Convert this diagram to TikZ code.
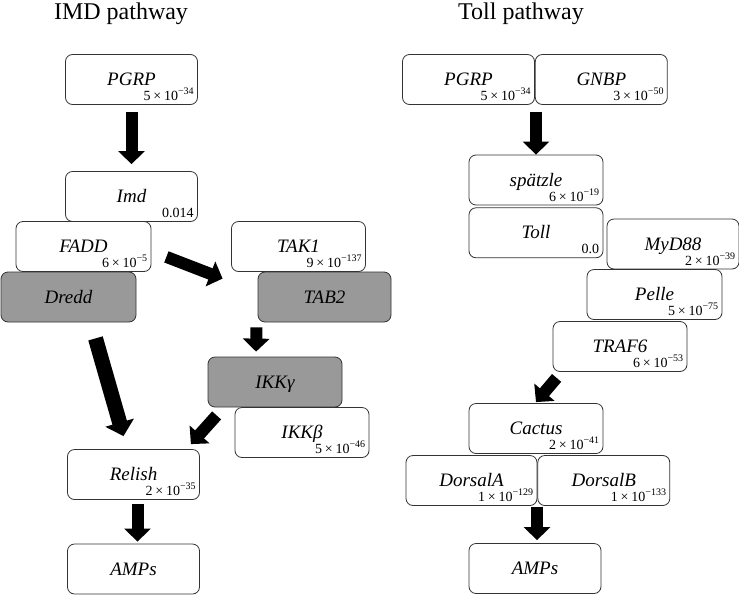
\documentclass[tikz,border=0pt]{standalone}
\usepackage{fontspec}
\setmainfont{Liberation Serif}
\usetikzlibrary{arrows.meta,positioning,calc}

\newcommand{\sci}[2]{#1\hspace{0.2em}×\hspace{0.2em}10\raisebox{0.42em}{\fontsize{10}{11}\selectfont −#2}}

\tikzset{
  gene/.style={draw=black!80,line width=0.8pt,rounded corners=7pt,fill=white,
    minimum width=132pt,minimum height=50pt,inner sep=0pt,
    text height=12pt,text depth=0pt,font=\fontsize{19}{22}\selectfont\itshape},
  dark/.style={gene,fill=black!40},
  pval/.style={anchor=south east,inner sep=0pt,xshift=-4pt,yshift=4pt,
    font=\fontsize{14}{16}\selectfont},
  fat/.style={line width=12pt,-{Triangle[width=26pt,length=13pt]}},
  title/.style={font=\fontsize{24}{28}\selectfont}
}

\begin{document}
\begin{tikzpicture}[x=1pt,y=-1pt]
      \useasboundingbox (0,0) rectangle (739,595);

      \node[title] (imdt) at (121,14) {IMD pathway};
      \node[title] (tollt) at (521,14) {Toll pathway};

      \node[gene,label={[pval]south east:\sci{5}{34}}] (ipgrp) at (131.5,79.5) {PGRP};
      \node[gene,label={[pval]south east:0.014}] (iimd) at (131.5,196.5) {Imd};
      \node[gene,minimum width=135pt,label={[pval]south east:\sci{6}{5}}] (ifadd) at (83.5,246.5) {FADD};
      \node[dark,minimum width=135pt] (idredd) at (68.5,297) {Dredd};
      \node[gene,minimum width=134pt,label={[pval]south east:\sci{9}{137}}] (itak) at (298.5,246.5) {TAK1};
      \node[dark,minimum width=133pt] (itab) at (324.5,297) {TAB2};
      \node[dark,minimum width=134pt] (iikkg) at (275,382) {IKKγ};
      \node[gene,minimum width=134pt,label={[pval]south east:\sci{5}{46}}] (iikkb) at (302,432.5) {IKKβ};
      \node[gene,label={[pval]south east:\sci{2}{35}}] (irel) at (133.5,474.5) {Relish};
      \node[gene] (iamp) at (133.5,569) {AMPs};

      \node[gene,label={[pval]south east:\sci{5}{34}}] (tpgrp) at (468.5,79.5) {PGRP};
      \node[gene,right=0pt of tpgrp,label={[pval]south east:\sci{3}{50}}] (tgnbp) {GNBP};
      \node[gene,minimum width=134pt,label={[pval]south east:\sci{6}{19}}] (tspz) at (536,180) {spätzle};
      \node[gene,minimum width=134pt,below=2pt of tspz,label={[pval]south east:0.0}] (ttoll) {Toll};
      \node[gene,label={[pval]south east:\sci{2}{39}}] (tmyd) at (673,244) {MyD88};
      \node[gene,minimum width=135pt,label={[pval]south east:\sci{5}{75}}] (tpelle) at (654.5,294.5) {Pelle};
      \node[gene,minimum width=134pt,label={[pval]south east:\sci{6}{53}}] (ttraf) at (620,346.5) {TRAF6};
      \node[gene,minimum width=134pt,label={[pval]south east:\sci{2}{41}}] (tcact) at (536,428.5) {Cactus};
      \node[gene,minimum width=131pt,label={[pval]south east:\sci{1}{129}}] (tdora) at (471.5,480.5) {DorsalA};
      \node[gene,right=0pt of tdora,label={[pval]south east:\sci{1}{133}}] (tdorb) {DorsalB};
      \node[gene] (tamp) at (535,568.5) {AMPs};

      \draw[fat,shorten <=7pt,shorten >=7pt] (ipgrp.south) -- (iimd.north);
      \draw[fat] ($(ifadd.south east)+(15,-15)$) -- ($(itab.north west)+(-35,7)$);
      \draw[fat,line width=15pt,-{Triangle[width=29pt,length=14pt]}] ($(idredd.south)+(27,16)$) -- ($(irel.north)+(-10,-13)$);
      \draw[fat,shorten <=5pt,shorten >=5pt] ([xshift=-68pt]itab.south) -- ([xshift=-19pt]iikkg.north);
      \draw[fat] ($(iikkg.south west)+(9,8)$) -- ($(irel.north east)+(-9,-5)$);
      \draw[fat,shorten <=4pt,shorten >=2pt] ([xshift=4pt]irel.south) -- ([xshift=4pt]iamp.north);

      \draw[fat,shorten <=7pt] (tspz.north |- tpgrp.south) -- (tspz.north);
      \draw[fat] ($(ttraf.south west)+(4,6)$) -- ($(tcact.north)+(0,-1)$);
      \draw[fat,shorten <=1pt,shorten >=3pt] ([xshift=2pt]tamp.north |- tdora.south) -- ([xshift=2pt]tamp.north);

\end{tikzpicture}
\end{document}
